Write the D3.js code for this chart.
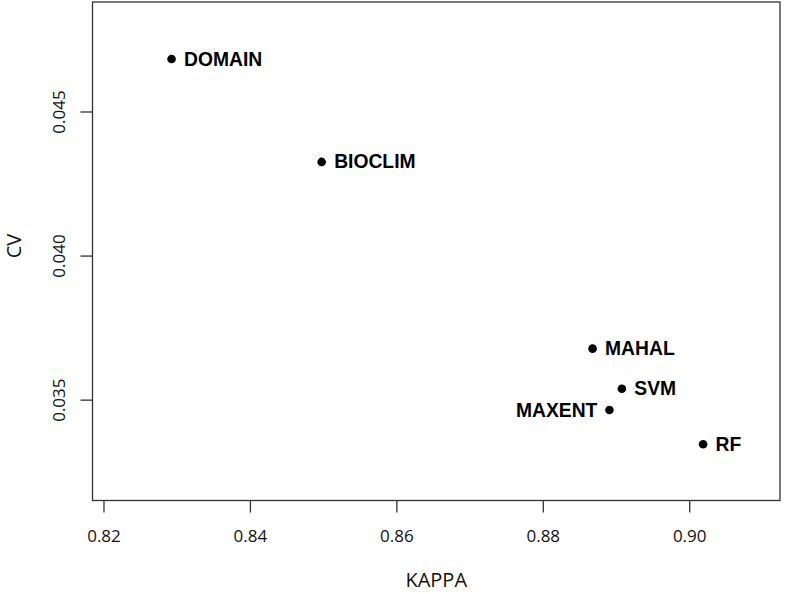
<!DOCTYPE html>
<html>
<head>
<meta charset="utf-8">
<script src="https://cdn.jsdelivr.net/npm/d3@7"></script>
<style>
  body { margin: 0; background: #fff; }
  svg { display: block; }
  .tick text { font-family: "Open Sans", sans-serif; font-size: 17px; fill: #111; }
  .lab { font-family: "Liberation Sans", Arial, sans-serif; font-size: 19.3px; font-weight: bold; fill: #000; }
  .title { font-family: "Open Sans", sans-serif; font-size: 20px; fill: #111; }
</style>
</head>
<body>
<svg></svg>
<script>
// model names and their scores
const models = ['DOMAIN', 'BIOCLIM', 'MAHAL', 'SVM', 'MAXENT', 'RF'];
const kappa = [0.8293, 0.8498, 0.8868, 0.8908, 0.8891, 0.9019];
const cv = [0.04682, 0.04325, 0.03677, 0.03538, 0.03464, 0.03345];
// label side: 'r' = right of point, 'l' = left
const side = ['r', 'r', 'r', 'r', 'l', 'r'];

const xTicks = [0.82, 0.84, 0.86, 0.88, 0.90];
const yTicks = [0.035, 0.040, 0.045];

const size = {w: 786, h: 594};
const box = {l: 92.5, r: 780, t: 2, b: 500.5};

const svg = d3.select('svg')
    .attr('width', size.w)
    .attr('height', size.h);

const x = d3.scaleLinear().domain([0.8185, 0.9124]).range([box.l, box.r]);
const y = d3.scaleLinear().domain([0.0315, 0.0488]).range([box.b, box.t]);

// x axis
const xAxis = svg.append('g')
    .attr('transform', 'translate(0,' + box.b + ')')
    .call(d3.axisBottom(x).tickValues(xTicks).tickFormat(d3.format('.2f')).tickSize(12).tickPadding(17));
xAxis.select('.domain').remove();
xAxis.selectAll('line').attr('stroke', '#333').attr('stroke-width', 1.3);

// y axis, labels rotated like R
const yAxis = svg.append('g')
    .attr('transform', 'translate(' + box.l + ',0)')
    .call(d3.axisLeft(y).tickValues(yTicks).tickFormat(d3.format('.3f')).tickSize(12));
yAxis.select('.domain').remove();
yAxis.selectAll('line').attr('stroke', '#333').attr('stroke-width', 1.3);
// each tick group is already moved to its y, so only shift left here
yAxis.selectAll('text')
    .attr('x', 0).attr('y', 0).attr('dy', 0)
    .attr('text-anchor', 'middle')
    .attr('dominant-baseline', 'central')
    .attr('transform', 'translate(' + (58 - box.l) + ',0) rotate(-90)');

// plot frame
svg.append('rect')
    .attr('x', box.l).attr('y', box.t)
    .attr('width', box.r - box.l).attr('height', box.b - box.t)
    .attr('fill', 'none').attr('stroke', '#333').attr('stroke-width', 1.3);

// axis titles
svg.append('text').attr('class', 'title')
    .attr('x', (box.l + box.r) / 2).attr('y', 579)
    .attr('text-anchor', 'middle').attr('dominant-baseline', 'central')
    .text('KAPPA');
svg.append('text').attr('class', 'title')
    .attr('transform', 'translate(13,246) rotate(-90)')
    .attr('text-anchor', 'middle').attr('dominant-baseline', 'central')
    .text('CV');

// points
const pts = models.map((m, i) => ({name: m, k: kappa[i], c: cv[i], s: side[i]}));
svg.selectAll('circle')
    .data(pts)
    .enter()
    .append('circle')
    .attr('cx', d => x(d.k))
    .attr('cy', d => y(d.c))
    .attr('r', 4.3)
    .attr('fill', '#000');

svg.selectAll('text.lab')
    .data(pts)
    .enter()
    .append('text')
    .attr('class', 'lab')
    .attr('x', d => x(d.k) + (d.s === 'r' ? 12.5 : -12))
    .attr('y', d => y(d.c))
    .attr('text-anchor', d => d.s === 'r' ? 'start' : 'end')
    .attr('dominant-baseline', 'central')
    .text(d => d.name);
</script>
</body>
</html>
